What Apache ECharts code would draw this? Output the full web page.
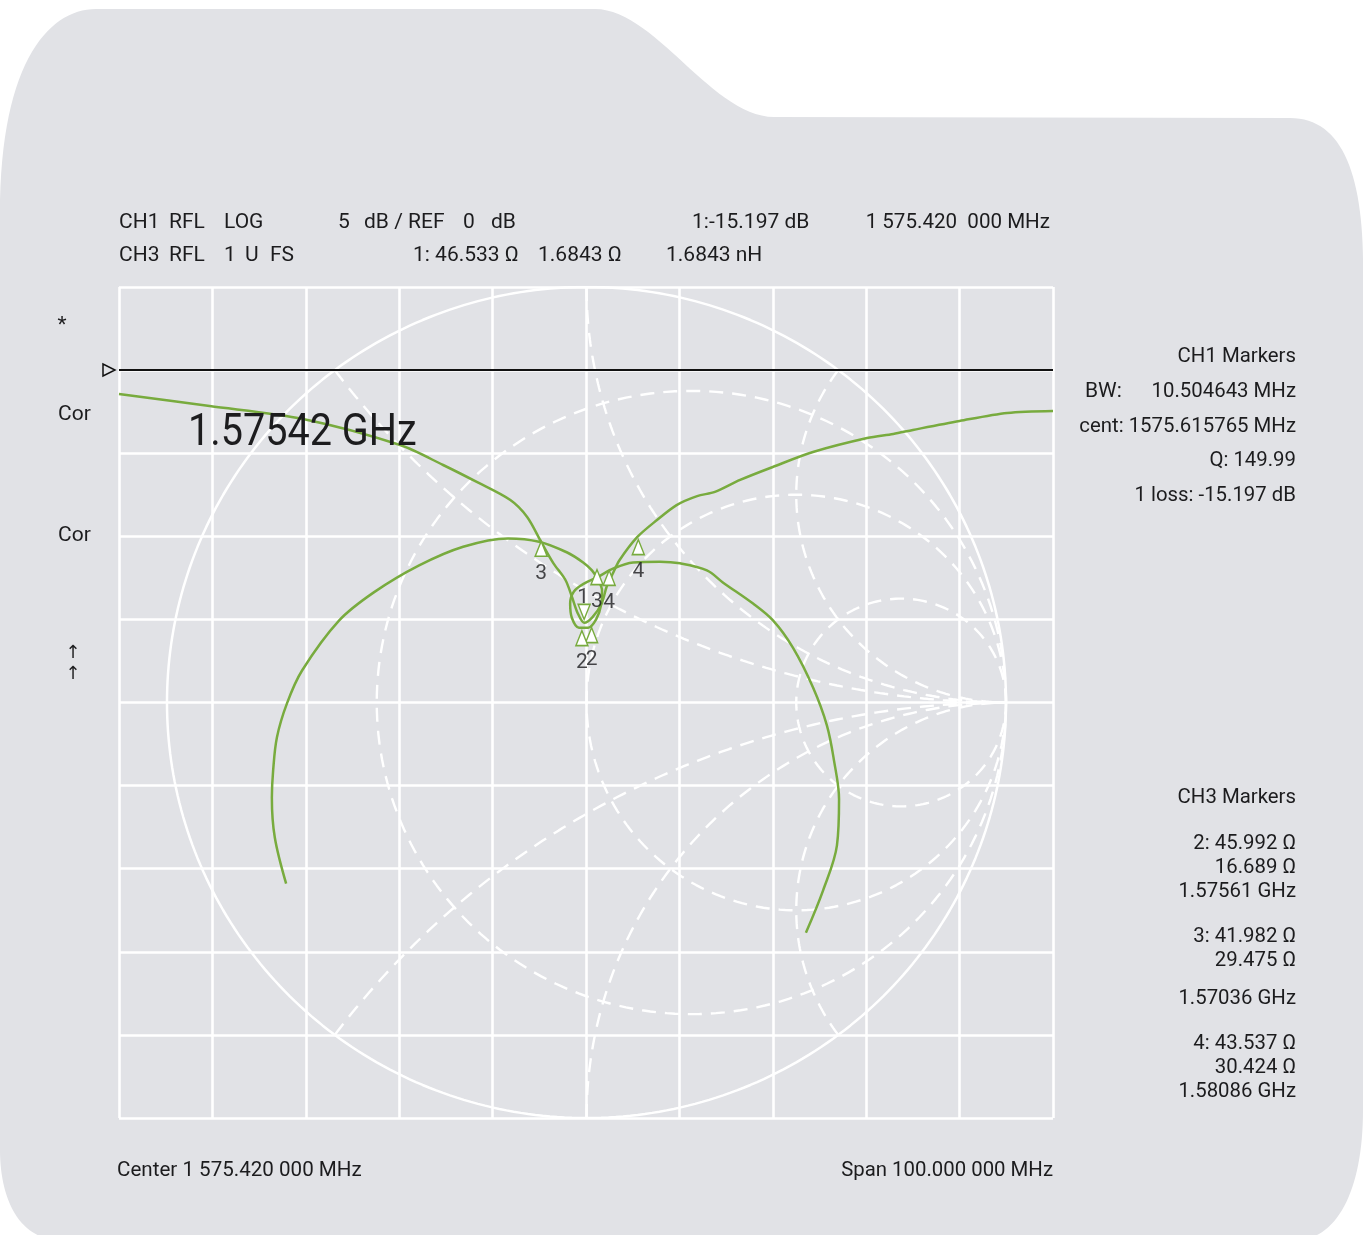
<!DOCTYPE html>
<html><head><meta charset="utf-8">
<script src="https://cdn.jsdelivr.net/npm/echarts@6/dist/echarts.min.js"></script>
<style>html,body{margin:0;padding:0;background:#ffffff}#c{width:1372px;height:1235px}</style>
</head><body><div id="c"></div>
<script>
// ---------- DATA ----------
// CH1 (log magnitude): frequency offset from centre 1575.42 MHz (span 100 MHz), value in dB
const ch1FreqOffsetMHz = [-50, -40.3, -30.3, -19.9, -15.3, -11.7, -8.1, -6.3, -4.8, -3.5, -2.2, -1.5, -0.9, -0.2, 0.7, 1.7, 2.2, 2.9, 3.6, 5.5, 7.6, 9.7, 11.9, 13.8, 16.5, 20.0, 24.3, 30.1, 32.9, 35.0, 40.0, 45.1, 50];
const ch1LogMagDb      = [-1.44, -2.16, -2.94, -4.51, -5.71, -6.73, -7.82, -8.84, -10.34, -11.61, -12.63, -13.65, -14.61, -15.2, -14.86, -14.01, -13.05, -12.21, -11.43, -10.04, -9.02, -8.12, -7.58, -7.33, -6.61, -5.83, -4.93, -4.09, -3.84, -3.60, -3.06, -2.58, -2.46];
const refLevelDb = 0;

// CH3 (Smith chart): reflection coefficient, real and imaginary parts
const ch3GammaRe = [-0.716, -0.743, -0.750, -0.747, -0.738, -0.714, -0.678, -0.590, -0.507, -0.399, -0.294, -0.187, -0.113, -0.046, -0.008, 0.013, 0.027, 0.037, 0.035, 0.023, 0.004, -0.018, -0.035, -0.039, -0.030, -0.006, 0.025, 0.063, 0.111, 0.175, 0.223, 0.287, 0.325, 0.397, 0.445, 0.492, 0.540, 0.573, 0.590, 0.602, 0.597, 0.564, 0.523];
const ch3GammaIm = [-0.436, -0.325, -0.229, -0.164, -0.084, -0.002, 0.077, 0.197, 0.265, 0.330, 0.375, 0.395, 0.387, 0.361, 0.337, 0.318, 0.296, 0.270, 0.236, 0.200, 0.180, 0.180, 0.204, 0.238, 0.267, 0.286, 0.301, 0.322, 0.337, 0.339, 0.335, 0.318, 0.289, 0.238, 0.197, 0.132, 0.036, -0.055, -0.140, -0.233, -0.344, -0.452, -0.554];

// Markers
const ch1MarkerNames = ['3', '4', '2'];
const ch1MarkerMHz   = [-4.8, 5.6, 0.6];
const ch1MarkerDb    = [-10.3, -10.2, -15.5];
const ch1DownMarkerNames = ['1'];
const ch1DownMarkerMHz   = [-0.2];
const ch1DownMarkerDb    = [-15.0];
const ch3MarkerNames = ['2', '3', '4'];
const ch3MarkerRe    = [-0.011, 0.025, 0.054];
const ch3MarkerIm    = [0.173, 0.320, 0.318];

// Smith chart constant-resistance / constant-reactance lines
const smithResistances = [1/3, 1, 3];
const smithReactances  = [0.5, 1, 2, -0.5, -1, -2];

// Texts
const headerRow1 = [['CH1',119],['RFL',169],['LOG',224],['5',338],['dB / REF',364],['0',463],['dB',491],['1:-15.197 dB',692]];
const headerRow1Right = '1 575.420  000 MHz';
const headerRow2 = [['CH3',119],['RFL',169],['1',224],['U',245],['FS',270],['1: 46.533 \u03A9',413],['1.6843 \u03A9',538],['1.6843 nH',666]];
const ch1Panel = [['CH1 Markers',355],['10.504643 MHz',390],['cent: 1575.615765 MHz',425],['Q: 149.99',459],['1 loss: -15.197 dB',494]];
const ch3Panel = [['CH3 Markers',796],['2: 45.992 \u03A9',842],['16.689 \u03A9',866],['1.57561 GHz',890],['3: 41.982 \u03A9',935],['29.475 \u03A9',959],['1.57036 GHz',997],['4: 43.537 \u03A9',1042],['30.424 \u03A9',1066],['1.58086 GHz',1090]];
const bigFreqLabel = '1.57542 GHz';
const centerLabel = 'Center 1 575.420 000 MHz';
const spanLabel = 'Span 100.000 000 MHz';

// ---------- STYLE ----------
const GREEN = '#78ab3e';
const INK = '#1c1c1e';
const PANEL = '#e1e2e6';
const FONT = 'Roboto, "DejaVu Sans", sans-serif';
const DASH = {color:'#ffffff', width:2.4, type:[14,9]};

function arc(cx, cy, r, a0, a1, n) {
  const pts = [];
  for (let i = 0; i <= n; i++) {
    const a = a0 + (a1 - a0) * i / n;
    pts.push([cx + r * Math.cos(a), cy + r * Math.sin(a)]);
  }
  return pts;
}
const smithSeries = [];
smithSeries.push({type:'line', xAxisIndex:1, yAxisIndex:1, silent:true, symbol:'none',
  data: arc(0,0,1,0,2*Math.PI,360), lineStyle:{color:'#ffffff', width:2.5}, z:1});
smithResistances.forEach(r => {
  smithSeries.push({type:'line', xAxisIndex:1, yAxisIndex:1, silent:true, symbol:'none',
    data: arc(r/(1+r), 0, 1/(1+r), 0, 2*Math.PI, 240), lineStyle:DASH, z:1});
});
smithReactances.forEach(x => {
  const ax = Math.abs(x);
  const px = (ax*ax-1)/(ax*ax+1), py = 2*ax/(ax*ax+1);
  let phi = Math.atan2(py - 1/ax, px - 1);
  if (phi < 0) phi += 2*Math.PI;
  let pts = arc(1, 1/ax, 1/ax, phi, 1.5*Math.PI, 160);
  if (x < 0) pts = pts.map(p => [p[0], -p[1]]);
  smithSeries.push({type:'line', xAxisIndex:1, yAxisIndex:1, silent:true, symbol:'none',
    data: pts, lineStyle:DASH, z:1});
});

// background panel outline (folder-tab shape), sampled from cubic segments
function panelOutline() {
  const segs = [
    ['L', [595, 9]],
    ['C', [655, 9], [712, 117], [774, 117]],
    ['L', [1290, 118]],
    ['C', [1340, 118], [1362, 170], [1363, 260]],
    ['L', [1363, 1110]],
    ['C', [1363, 1185], [1340, 1236], [1300, 1240]],
    ['L', [60, 1240]],
    ['C', [20, 1240], [0, 1200], [0, 1150]],
    ['L', [0, 200]],
    ['C', [3, 60], [50, 9], [96, 9]]
  ];
  const pts = [[96, 9]];
  let cur = [96, 9];
  segs.forEach(s => {
    if (s[0] === 'L') { pts.push(s[1]); cur = s[1]; }
    else {
      const p0 = cur, p1 = s[1], p2 = s[2], p3 = s[3];
      for (let i = 1; i <= 30; i++) {
        const t = i / 30, u = 1 - t;
        pts.push([u*u*u*p0[0] + 3*u*u*t*p1[0] + 3*u*t*t*p2[0] + t*t*t*p3[0],
                  u*u*u*p0[1] + 3*u*u*t*p1[1] + 3*u*t*t*p2[1] + t*t*t*p3[1]]);
      }
      cur = p3;
    }
  });
  return pts;
}

function txt(text, x, y, size, align, sx) {
  const el = {type:'text', x:x, y:y + 2, z:100, silent:true,
    style:{text:text, fill:INK, font: size + 'px ' + FONT, textAlign: align || 'left', textVerticalAlign:'middle'}};
  if (sx) { el.scaleX = sx; el.originX = 0; el.originY = 0; }
  return el;
}
const graphics = [];
graphics.push({type:'polygon', z:-100, silent:true, shape:{points:panelOutline()}, style:{fill:PANEL}});
headerRow1.forEach(t => graphics.push(txt(t[0], t[1], 221, 21)));
graphics.push(txt(headerRow1Right, 1050, 221, 21, 'right', 0.98));
headerRow2.forEach(t => graphics.push(txt(t[0], t[1], 254, 21)));
ch1Panel.forEach(t => graphics.push(txt(t[0], 1296, t[1], 21, 'right', 0.97)));
graphics.push(txt('BW:', 1085, 390, 21));
ch3Panel.forEach(t => graphics.push(txt(t[0], 1296, t[1], 21, 'right', 0.97)));
graphics.push(txt(centerLabel, 117, 1169, 21, 'left', 0.98));
graphics.push(txt(spanLabel, 1053, 1169, 21, 'right', 0.97));
graphics.push(txt('*', 62, 324, 21, 'center'));
graphics.push(txt('Cor', 58, 413, 21));
graphics.push(txt('Cor', 58, 534, 21));
graphics.push(txt('\u2191', 73, 651, 18, 'center'));
graphics.push(txt('\u2191', 73, 672, 18, 'center'));
graphics.push(txt(bigFreqLabel, 188, 432, 44, 'left', 0.9));
graphics.push({type:'polygon', z:50, silent:true, shape:{points:[[103,364],[103,376],[115,370]]},
  style:{fill:PANEL, stroke:'#111111', lineWidth:1.5}});

const splitStyle = {show:true, lineStyle:{color:'#ffffff', width:2.6}};
const option = {
  animation:false,
  backgroundColor:'#ffffff',
  graphic:{elements:graphics},
  grid:{left:119, top:287, width:934, height:831, containLabel:false},
  xAxis:[
    {type:'value', min:-50, max:50, interval:10, axisLine:{show:false}, axisTick:{show:false}, axisLabel:{show:false}, splitLine:splitStyle},
    {type:'value', min:-1.1144, max:1.1120, show:false, splitLine:{show:false}}
  ],
  yAxis:[
    {type:'value', min:-45, max:5, interval:5, axisLine:{show:false}, axisTick:{show:false}, axisLabel:{show:false}, splitLine:splitStyle},
    {type:'value', min:-1, max:1, show:false, splitLine:{show:false}}
  ],
  series: smithSeries.concat([
    {type:'line', name:'ref', symbol:'none', silent:true, z:3,
      data: [ch1FreqOffsetMHz[0], ch1FreqOffsetMHz[ch1FreqOffsetMHz.length-1]].map(f=>[f, refLevelDb]),
      lineStyle:{color:'#111111', width:2}},
    {type:'line', name:'CH1', symbol:'none', smooth:0.3, z:4,
      data: ch1FreqOffsetMHz.map((f,i)=>[f, ch1LogMagDb[i]]), lineStyle:{color:GREEN, width:2.5}},
    {type:'line', name:'CH3', xAxisIndex:1, yAxisIndex:1, symbol:'none', smooth:0.35, z:4,
      data: ch3GammaRe.map((g,i)=>[g, ch3GammaIm[i]]), lineStyle:{color:GREEN, width:2.5}},
    {type:'scatter', symbol:'triangle', symbolSize:[12,15], symbolOffset:[0,7.5], z:10,
      data: ch1MarkerMHz.map((f,i)=>[f, ch1MarkerDb[i]]), itemStyle:{color:'#ffffff', borderColor:GREEN, borderWidth:1.5, opacity:1}},
    {type:'scatter', symbol:'triangle', symbolRotate:180, symbolSize:[12,15], symbolOffset:[0,-7.5], z:10,
      data: ch1DownMarkerMHz.map((f,i)=>[f, ch1DownMarkerDb[i]]), itemStyle:{color:'#ffffff', borderColor:GREEN, borderWidth:1.5, opacity:1}},
    {type:'scatter', xAxisIndex:1, yAxisIndex:1, symbol:'triangle', symbolSize:[12,15], symbolOffset:[0,7.5], z:10,
      data: ch3MarkerRe.map((g,i)=>[g, ch3MarkerIm[i]]), itemStyle:{color:'#ffffff', borderColor:GREEN, borderWidth:1.5, opacity:1}},
    {type:'scatter', symbolSize:1, z:11, silent:true, itemStyle:{color:'rgba(0,0,0,0)'},
      data: ch1MarkerMHz.map((f,i)=>({name:ch1MarkerNames[i], value:[f, ch1MarkerDb[i]]})),
      label:{show:true, formatter:'{b}', position:'inside', offset:[0,32], color:INK, fontSize:21, fontFamily:FONT}},
    {type:'scatter', symbolSize:1, z:11, silent:true, itemStyle:{color:'rgba(0,0,0,0)'},
      data: ch1DownMarkerMHz.map((f,i)=>({name:ch1DownMarkerNames[i], value:[f, ch1DownMarkerDb[i]]})),
      label:{show:true, formatter:'{b}', position:'inside', offset:[-1,-22], color:INK, fontSize:21, fontFamily:FONT}},
    {type:'scatter', xAxisIndex:1, yAxisIndex:1, symbolSize:1, z:11, silent:true, itemStyle:{color:'rgba(0,0,0,0)'},
      data: ch3MarkerRe.map((g,i)=>({name:ch3MarkerNames[i], value:[g, ch3MarkerIm[i]]})),
      label:{show:true, formatter:'{b}', position:'inside', offset:[0,32], color:INK, fontSize:21, fontFamily:FONT}}
  ])
};
const chart = echarts.init(document.getElementById('c'), null, {renderer:'canvas'});
chart.setOption(option);
</script>
</body></html>
